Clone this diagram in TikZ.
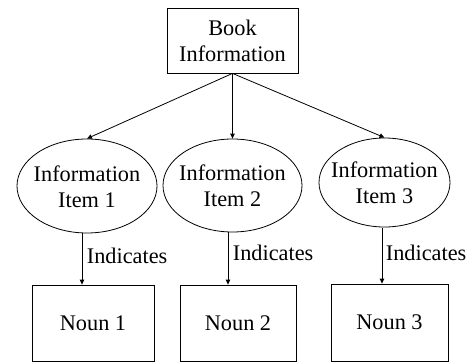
\documentclass[tikz,border=0pt]{standalone}
\usepackage{fontspec}
\setmainfont{Liberation Serif}
\usetikzlibrary{shapes.geometric,arrows.meta}

\tikzset{
  txt/.style={font=\fontsize{22.3}{26.5}\selectfont, align=center, inner sep=0pt},
  boxnode/.style={draw, line width=0.8pt, rectangle, inner sep=0pt},
  ellnode/.style={draw, line width=0.8pt, ellipse, inner sep=0pt},
  conn/.style={line width=0.8pt, -{Triangle[length=5pt,width=4.5pt]}},
}

\begin{document}
\begin{tikzpicture}[x=1pt, y=-1pt]
  \useasboundingbox (0,0) rectangle (471,362);

  % top box
  \node[boxnode, minimum width=131pt, minimum height=65pt] (book) at (232.5,40.5) {};
  \node[txt] (booktxt) at (232.5,41) {Book\\Information};

  % information items
  \node[ellnode, minimum width=140pt, minimum height=94pt] (i1) at (87,186) {};
  \node[ellnode, minimum width=139pt, minimum height=93pt] (i2) at (232.5,185.5) {};
  \node[ellnode, minimum width=131pt, minimum height=89pt] (i3) at (384.5,182.5) {};
  \node[txt] (i1txt) at (87,187) {Information\\Item 1};
  \node[txt] (i2txt) at (232.5,186) {Information\\Item 2};
  \node[txt] (i3txt) at (384.5,183) {Information\\Item 3};

  % nouns
  \node[boxnode, minimum width=122pt, minimum height=76pt] (n1) at (93,323) {};
  \node[boxnode, minimum width=116pt, minimum height=76pt] (n2) at (238,323) {};
  \node[boxnode, minimum width=117pt, minimum height=77pt] (n3) at (389.5,322.5) {};
  \node[txt] (n1txt) at (n1) {Noun 1};
  \node[txt] (n2txt) at (n2) {Noun 2};
  \node[txt] (n3txt) at (n3) {Noun 3};

  % connectors
  \draw[conn] (book.south) -- (i1.north);
  \draw[conn] (book.south) -- (i2.north);
  \draw[conn] (book.south) -- (i3.north);

  \coordinate (a1) at (82,233);
  \coordinate (a2) at (228,232);
  \coordinate (a3) at (382,228);
  \draw[conn] (a1) -- (a1 |- n1.north) node[pos=0.45, right=4.5pt, txt] (l1) {Indicates};
  \draw[conn] (a2) -- (a2 |- n2.north) node[pos=0.4, right=4.5pt, txt] (l2) {Indicates};
  \draw[conn] (a3) -- (a3 |- n3.north) node[pos=0.45, right=3.5pt, txt] (l3) {Indicates};
\end{tikzpicture}
\end{document}
